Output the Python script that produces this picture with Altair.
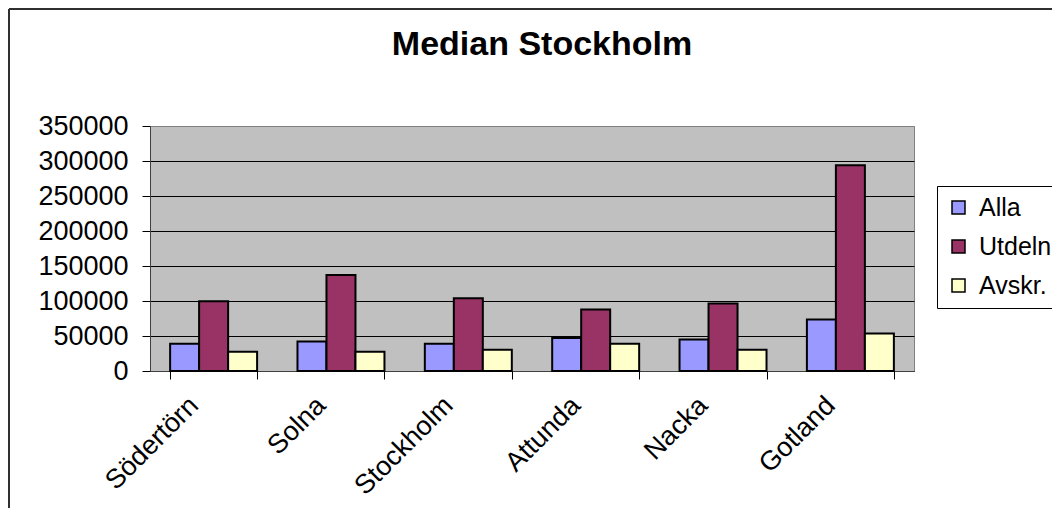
import altair as alt
import pandas as pd

title_text = "Median Stockholm"
regions = ["Södertörn", "Solna", "Stockholm", "Attunda", "Nacka", "Gotland"]
series = ["Alla", "Utdeln", "Avskr."]
alla = [39000, 42000, 39000, 47000, 45000, 73500]
utdeln = [99500, 137000, 104000, 88000, 96500, 294000]
avskr = [27500, 27500, 30500, 39000, 30500, 53500]
colors = ["#9999FF", "#993366", "#FFFFCC"]
y_ticks = [0, 50000, 100000, 150000, 200000, 250000, 300000, 350000]

rows = []
for i, r in enumerate(regions):
    for s, vals in zip(series, [alla, utdeln, avskr]):
        rows.append({"region": r, "series": s, "value": vals[i]})
df = pd.DataFrame(rows)

FONT = "Liberation Sans"

bars = alt.Chart(df).mark_bar(stroke="black", strokeWidth=2).encode(
    x=alt.X(
        "region:N",
        sort=regions,
        scale=alt.Scale(paddingInner=0.317, paddingOuter=0.158),
        axis=alt.Axis(
            title=None,
            labelAngle=-45,
            labelAlign="right",
            labelBaseline="middle",
            labelFontSize=27,
            labelFont=FONT,
            labelColor="black",
            labelPadding=22,
            labelOffset=-20,
            tickBand="extent",
            tickSize=8,
            tickColor="black",
            domainColor="#404040",
            grid=False,
        ),
    ),
    xOffset=alt.XOffset("series:N", sort=series,
                        scale=alt.Scale(paddingInner=0, paddingOuter=0)),
    y=alt.Y(
        "value:Q",
        scale=alt.Scale(domain=[0, 350000], nice=False),
        axis=alt.Axis(
            title=None,
            values=y_ticks,
            format="d",
            labelFontSize=27,
            labelFont=FONT,
            labelColor="black",
            labelPadding=14,
            tickSize=8,
            tickColor="black",
            domainColor="#404040",
            grid=True,
            gridColor={"condition": {"test": "datum.value >= 350000", "value": "#808080"}, "value": "black"},
            gridWidth=1,
        ),
    ),
    color=alt.Color(
        "series:N",
        sort=series,
        scale=alt.Scale(domain=series, range=colors),
        legend=alt.Legend(
            title=None,
            orient="none",
            legendX=787,
            legendY=60,
            strokeColor="black",
            fillColor="white",
            padding=9,
            labelFontSize=25,
            labelFont=FONT,
            labelColor="black",
            labelOffset=8,
            symbolType="square",
            symbolSize=169,
            symbolStrokeColor="black",
            symbolStrokeWidth=1.5,
            rowPadding=13,
        ),
    ),
)

frame_data = pd.DataFrame({"k": [0]})
left_rule = alt.Chart(frame_data).mark_rule(color="#303030", strokeWidth=2).encode(
    x=alt.value(-141), y=alt.value(-117), y2=alt.value(400)
)
top_rule = alt.Chart(frame_data).mark_rule(color="#303030", strokeWidth=2).encode(
    x=alt.value(-141), x2=alt.value(920), y=alt.value(-117)
)
title = alt.Chart(pd.DataFrame({"t": [title_text]})).mark_text(
    fontSize=34, fontWeight="bold", font=FONT, baseline="alphabetic", align="center", color="black"
).encode(text="t:N", x=alt.value(392), y=alt.value(-71))

chart = alt.layer(left_rule, top_rule, title, bars).properties(
    width=764, height=245,
    autosize=alt.AutoSizeParams(type="none"),
    padding={"left": 142, "top": 118, "right": 138, "bottom": 137},
    background="white",
).configure_view(
    fill="#C0C0C0", stroke="#808080", strokeWidth=1
)

chart.save("out.html", embed_options={"renderer": "svg", "actions": False})
